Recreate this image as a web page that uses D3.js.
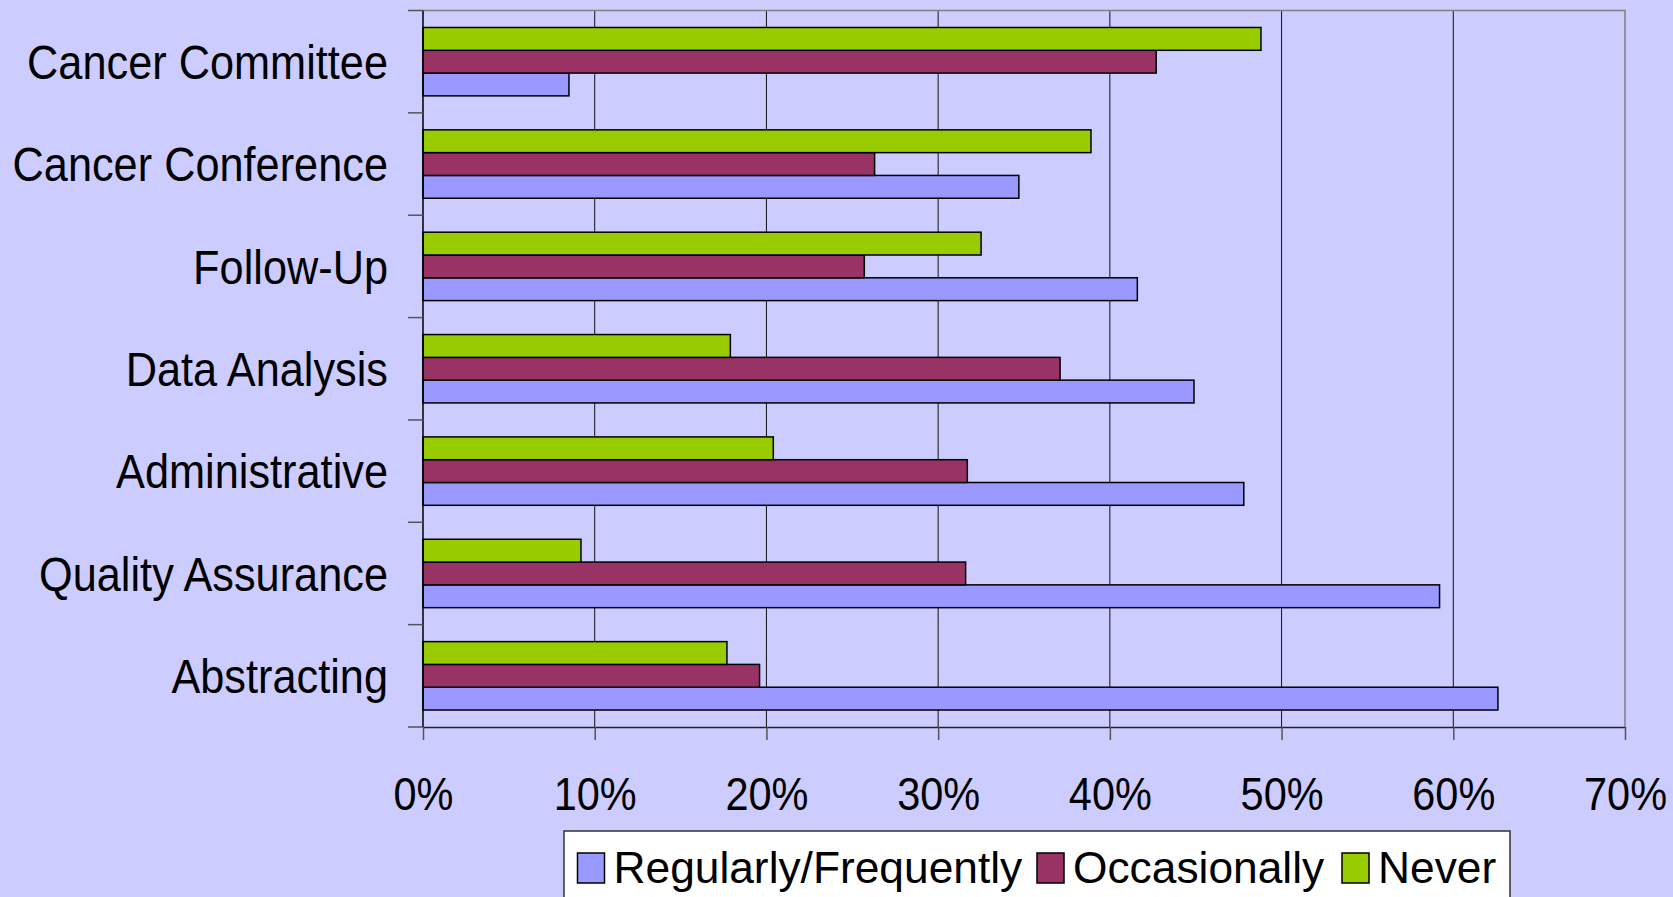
<!DOCTYPE html>
<html>
<head>
<meta charset="utf-8">
<script src="https://cdn.jsdelivr.net/npm/d3@7"></script>
<style>
  html, body { margin: 0; padding: 0; background: #CCCCFF; }
  svg { display: block; }
  text { font-family: "Liberation Sans", Arial, sans-serif; fill: #000; }
</style>
</head>
<body>
<svg id="chart" width="1673" height="897"></svg>
<script>
// Survey categories, listed top to bottom
const categories = [
  "Cancer Committee",
  "Cancer Conference",
  "Follow-Up",
  "Data Analysis",
  "Administrative",
  "Quality Assurance",
  "Abstracting"
];

// Share of respondents per category (percent)
const regularly    = [8.5, 34.7, 41.6, 44.9, 47.8, 59.2, 62.6];
const occasionally = [42.7, 26.3, 25.7, 37.1, 31.7, 31.6, 19.6];
const never        = [48.8, 38.9, 32.5, 17.9, 20.4, 9.2, 17.7];

const seriesNames  = ["Regularly/Frequently", "Occasionally", "Never"];
const seriesColors = ["#9999FF", "#993366", "#99CC00"];
const seriesValues = [regularly, occasionally, never];

const xTicks = [0, 10, 20, 30, 40, 50, 60, 70];

const svg = d3.select("#chart");
const plot = { left: 423, right: 1625, top: 10.5, bottom: 727 };
const stretch = 1.12; // tall glyph proportions used for axis text

const x = d3.scaleLinear().domain([0, 70]).range([plot.left, plot.right]);
const y0 = d3.scaleBand().domain(categories).range([plot.top, plot.bottom]);
// Within each category: Never on top, then Occasionally, then Regularly/Frequently
const y1 = d3.scaleBand()
  .domain(["Never", "Occasionally", "Regularly/Frequently"])
  .range([0, y0.bandwidth()])
  .paddingInner(0)
  .paddingOuter(0.745);

// Vertical gridlines
svg.append("g")
  .selectAll("line")
  .data(xTicks.slice(1, -1))
  .join("line")
  .attr("x1", d => x(d)).attr("x2", d => x(d))
  .attr("y1", plot.top).attr("y2", plot.bottom)
  .attr("stroke", "#111").attr("stroke-width", 1);

// Plot frame (top and right)
svg.append("path")
  .attr("d", `M${plot.left},${plot.top}H${plot.right}V${plot.bottom}`)
  .attr("fill", "none").attr("stroke", "#808080").attr("stroke-width", 1.5);

// Bars
const rows = [];
categories.forEach((c, i) => {
  seriesNames.forEach((s, j) => {
    rows.push({ cat: c, series: s, value: seriesValues[j][i], color: seriesColors[j] });
  });
});

svg.append("g")
  .selectAll("rect")
  .data(rows)
  .join("rect")
  .attr("x", x(0))
  .attr("y", d => y0(d.cat) + y1(d.series))
  .attr("width", d => x(d.value) - x(0))
  .attr("height", y1.bandwidth())
  .attr("fill", d => d.color)
  .attr("stroke", "#000")
  .attr("stroke-width", 1.5);

// X axis
const xAxis = svg.append("g")
  .attr("transform", `translate(0,${plot.bottom})`)
  .call(d3.axisBottom(x).tickValues(xTicks).tickFormat(d => d + "%").tickSize(13).tickSizeOuter(0));
xAxis.select(".domain").attr("stroke", "#222").attr("stroke-width", 1.5);
xAxis.selectAll(".tick line").attr("stroke", "#555").attr("stroke-width", 1.5);
xAxis.selectAll(".tick text")
  .attr("dy", null)
  .attr("y", 83 / stretch)
  .attr("transform", `scale(1,${stretch})`)
  .attr("font-size", 41.5)
  .attr("font-family", "Liberation Sans, Arial, sans-serif")
  .attr("fill", "#000");

// Y axis line and category boundary ticks
const boundaries = categories.map(c => y0(c)).concat([y0(categories[categories.length - 1]) + y0.bandwidth()]);
svg.append("line")
  .attr("x1", plot.left).attr("x2", plot.left)
  .attr("y1", plot.top).attr("y2", plot.bottom)
  .attr("stroke", "#000").attr("stroke-width", 1.5);
svg.append("g")
  .selectAll("line")
  .data(boundaries)
  .join("line")
  .attr("x1", plot.left - 15).attr("x2", plot.left)
  .attr("y1", d => d).attr("y2", d => d)
  .attr("stroke", "#555").attr("stroke-width", 1.5);

// Category labels
const yAxis = svg.append("g")
  .attr("transform", `translate(${plot.left},0)`)
  .call(d3.axisLeft(y0).tickSize(0).tickPadding(35));
yAxis.select(".domain").remove();
yAxis.selectAll(".tick text")
  .attr("dy", null)
  .attr("y", 17.3 / stretch)
  .attr("transform", `scale(1,${stretch})`)
  .attr("font-size", 43.3)
  .attr("font-family", "Liberation Sans, Arial, sans-serif")
  .attr("fill", "#000");

// Legend
const legend = svg.append("g");
legend.append("rect")
  .attr("x", 564).attr("y", 831)
  .attr("width", 946).attr("height", 80)
  .attr("fill", "#fff").attr("stroke", "#333").attr("stroke-width", 1.5);

const legendX = [577.5, 1037, 1342];
const legendItems = legend.selectAll("g.item")
  .data(seriesNames.map((s, i) => ({ name: s, color: seriesColors[i], x: legendX[i] })))
  .join("g")
  .attr("class", "item")
  .attr("transform", d => `translate(${d.x},0)`);
legendItems.append("rect")
  .attr("x", 0).attr("y", 853)
  .attr("width", 27).attr("height", 30)
  .attr("fill", d => d.color)
  .attr("stroke", "#000").attr("stroke-width", 1.5);
legendItems.append("text")
  .attr("x", 36).attr("y", 883)
  .attr("font-size", 44.3)
  .text(d => d.name);
</script>
</body>
</html>
